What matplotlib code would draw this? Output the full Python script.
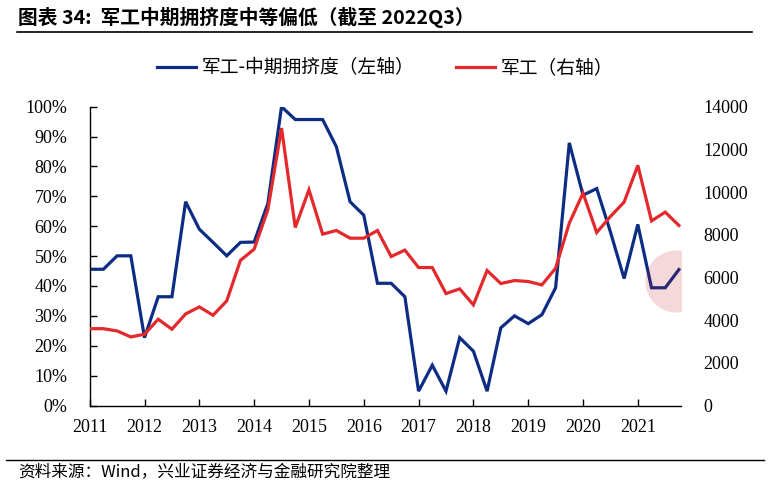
import matplotlib
matplotlib.use("Agg")
import matplotlib.pyplot as plt
from matplotlib.lines import Line2D
from matplotlib.ticker import FuncFormatter

plt.rcParams['font.family'] = ['Noto Sans CJK SC', 'DejaVu Sans']

# ---- data ----
year_labels = ["2011", "2012", "2013", "2014", "2015", "2016",
               "2017", "2018", "2019", "2020", "2021"]
crowding_pct = [45.6, 45.6, 50.1, 50.1, 22.7, 36.4, 36.4, 68.2, 59.0, 54.6,
                50.1, 54.6, 54.7, 67.6, 100.0, 95.7, 95.7, 95.7, 86.6, 68.2,
                63.7, 40.9, 40.9, 36.4, 4.8, 13.5, 4.8, 22.7, 18.2, 4.8,
                26.0, 30.0, 27.4, 30.4, 39.4, 87.9, 70.4, 72.6, 58.1, 42.5,
                60.6, 39.4, 39.4, 45.5]
index_values = [3600, 3600, 3494, 3213, 3339, 4043, 3574, 4291, 4620, 4230,
                4901, 6800, 7326, 9170, 13000, 8340, 10107, 8029, 8200, 7840,
                7840, 8200, 6980, 7280, 6465, 6465, 5245, 5465, 4715, 6325,
                5715, 5855, 5810, 5650, 6435, 8545, 9950, 8105, 8855, 9530,
                11250, 8650, 9060, 8435]
left_ticks = [0, 10, 20, 30, 40, 50, 60, 70, 80, 90, 100]
right_ticks = [0, 2000, 4000, 6000, 8000, 10000, 12000, 14000]
label_blue = "军工-中期拥挤度（左轴）"
label_red = "军工（右轴）"
title = "图表 34:  军工中期拥挤度中等偏低（截至 2022Q3）"
source = "资料来源：Wind，兴业证券经济与金融研究院整理"
# highlight circle (annotation)
hl_x, hl_y = 42.75, 41.7

BLUE = "#0D2C84"
RED = "#E3292B"
TICKFONT = "Liberation Serif"

fig = plt.figure(figsize=(7.7, 4.91), dpi=100)
ax = fig.add_axes([0.1165, 0.1741, 0.8844 - 0.1165, 0.7827 - 0.1741])
ax2 = ax.twinx()

x = list(range(len(crowding_pct)))
l1, = ax.plot(x, crowding_pct, color=BLUE, lw=2.3, solid_joinstyle='miter')
l2, = ax2.plot(x, index_values, color=RED, lw=2.3, solid_joinstyle='miter')

ax2.scatter([hl_x], [hl_y / 100 * right_ticks[-1]], s=2000, color="#BE1A26",
            alpha=0.17, linewidths=0, zorder=5)

ax.set_xlim(0, 43.15)
ax.set_ylim(0, 100)
ax2.set_ylim(0, 14000)

ax.set_yticks(left_ticks)
ax.yaxis.set_major_formatter(FuncFormatter(lambda v, p: f"{int(round(v))}%"))
ax2.set_yticks(right_ticks)
ax.set_xticks(range(0, 4 * len(year_labels), 4))
ax.set_xticklabels(year_labels)

for s in ["top", "right"]:
    ax.spines[s].set_visible(False)
for s in ["top", "right", "left", "bottom"]:
    ax2.spines[s].set_visible(False)
ax.spines["left"].set_linewidth(1.0)
ax.spines["bottom"].set_linewidth(1.0)

ax.tick_params(axis='y', direction='in', length=5, width=1.0, pad=16,
               labelsize=13)
ax.tick_params(axis='x', direction='in', length=5, width=1.0, pad=10,
               labelsize=13)
ax2.tick_params(axis='y', length=0, pad=16, labelsize=13)
for lab in ax.get_xticklabels() + ax.get_yticklabels() + ax2.get_yticklabels():
    lab.set_fontfamily(TICKFONT)

fig.legend([l1, l2], [label_blue, label_red], loc='center',
           bbox_to_anchor=(0.5, 1 - 68 / 491), ncol=2, frameon=False,
           handlelength=2.1, handletextpad=0.3, columnspacing=2.2,
           prop={'family': ['Noto Sans CJK SC', 'DejaVu Sans'], 'size': 13.5})

fig.text(18 / 770, 1 - 17 / 491, title, fontsize=14.2, fontweight='bold',
         va='center', ha='left')
fig.add_artist(Line2D([17 / 770, 752 / 770], [1 - 31.5 / 491] * 2,
                      transform=fig.transFigure, color='black', lw=1.2))
fig.add_artist(Line2D([6 / 770, 764 / 770], [1 - 460 / 491] * 2,
                      transform=fig.transFigure, color='black', lw=1.0))
fig.text(18 / 770, 1 - 472 / 491, source, fontsize=12, va='center', ha='left')

fig.savefig("out.png", dpi=100)
